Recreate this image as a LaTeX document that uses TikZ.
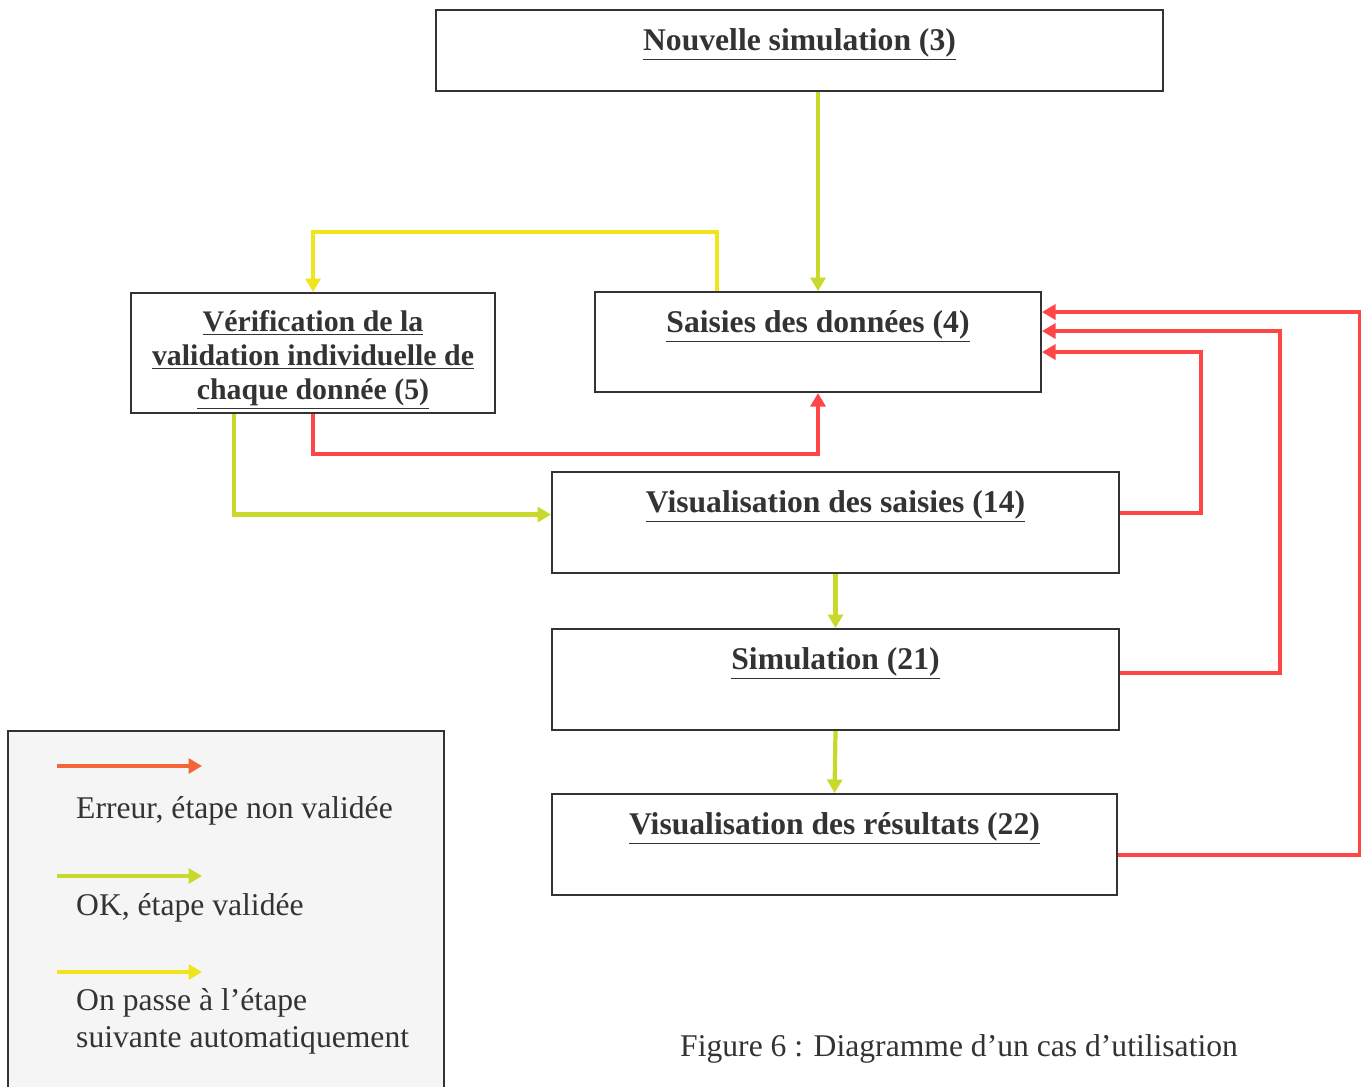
\documentclass[tikz,border=0pt]{standalone}
\usepackage{fontspec}
\setmainfont{Liberation Serif}
\usepackage{xcolor}
\usepackage{tikz}
\usetikzlibrary{positioning,calc,arrows.meta}
\definecolor{errred}{HTML}{FF4646}
\definecolor{legred}{HTML}{F4663A}
\definecolor{okgreen}{HTML}{C8D92C}
\definecolor{autoyellow}{HTML}{F0E41A}
\definecolor{ink}{HTML}{333333}

\begin{document}
\begin{tikzpicture}[x=0.02cm,y=-0.02cm,
    box/.style={draw=ink, line width=1.2pt, anchor=north west, inner sep=0pt},
    titre/.style={anchor=north, yshift=-0.26cm, align=center, text=ink,
        font=\fontsize{18}{19.5}\selectfont\bfseries},
    legtext/.style={anchor=base west, align=left, text=ink,
        font=\fontsize{18}{21}\selectfont},
    conn/.style={line width=2.4pt, -{Triangle[length=0.27cm,width=0.3cm]}},
    err/.style={conn, draw=errred, errred},
    ok/.style={conn, draw=okgreen, okgreen},
    auto/.style={conn, draw=autoyellow, autoyellow}]
    \useasboundingbox (0,0) rectangle (1361,1087);
    % Boxes
    \node[box, minimum width=14.54cm, minimum height=1.62cm,
        label={[titre]north:\underline{Nouvelle simulation (3)}}] (nouvelle) at (435,9) {};
    \node[box, minimum width=7.28cm, minimum height=2.40cm,
        label={[titre, yshift=0.02cm, font=\fontsize{17}{19.5}\selectfont\bfseries]north:\underline{Vérification de la}\\\underline{validation individuelle de}\\\underline{chaque donnée (5)}}] (verif) at (130,292) {};
    \node[box, minimum width=8.92cm, minimum height=2.00cm,
        label={[titre]north:\underline{Saisies des données (4)}}] (saisies) at (594,291) {};
    \node[box, minimum width=11.34cm, minimum height=2.02cm,
        label={[titre]north:\underline{Visualisation des saisies (14)}}] (vissaisies) at (551,471) {};
    \node[box, minimum width=11.34cm, minimum height=2.02cm,
        label={[titre]north:\underline{Simulation (21)}}] (simul) at (551,628) {};
    \node[box, minimum width=11.30cm, minimum height=2.02cm,
        label={[titre]north:\underline{Visualisation des résultats (22)}}] (visres) at (551,793) {};
    % OK arrows
    \draw[ok] (nouvelle.south -| saisies.north) -- (saisies.north);
    \draw[ok] ([xshift=-1.58cm]verif.south) |- ([yshift=0.16cm]vissaisies.west);
    \draw[ok] (vissaisies.south) -- (simul.north);
    \draw[ok] (simul.south) -- (visres.north);
    % automatic step
    \draw[auto] ([xshift=-2.02cm]saisies.north) -- ++(0,-59) -| (verif.north);
    % errors back to the input
    \draw[err] (verif.south) -- ++(0,40) -| (saisies.south);
    \draw[err] ([yshift=0.19cm]vissaisies.east) -- ++(81,0) |- ([yshift=-0.2cm]saisies.east);
    \draw[err] ([yshift=0.13cm]simul.east) -- ++(160,0) |- ([yshift=0.22cm]saisies.east);
    \draw[err] ([yshift=-0.21cm]visres.east) -- ++(242,0) |- ([yshift=0.6cm]saisies.east);
    % Legend
    \fill[black!4] (8,731) rectangle (444,1087);
    \draw[ink, line width=1.2pt] (8,1087) -- (8,731) -- (444,731) -- (444,1087);
    \coordinate (e1) at (57,766);
    \coordinate (o1) at (57,876);
    \coordinate (a1) at (57,972);
    \draw[conn, draw=legred, legred] (e1) -- ++(145,0);
    \draw[ok] (o1) -- ++(145,0);
    \draw[auto] (a1) -- ++(145,0);
    \node[legtext] (lerr) at (70,818) {Erreur, étape non validée};
    \node[legtext] (lok) at (70,915) {OK, étape validée};
    \node[legtext] (lauto) at (70,1047) {On passe à l’étape\\suivante automatiquement};
    % Caption
    \node[legtext] (caption) at (674,1056) {Figure 6 : Diagramme d’un cas d’utilisation};
\end{tikzpicture}
\end{document}
